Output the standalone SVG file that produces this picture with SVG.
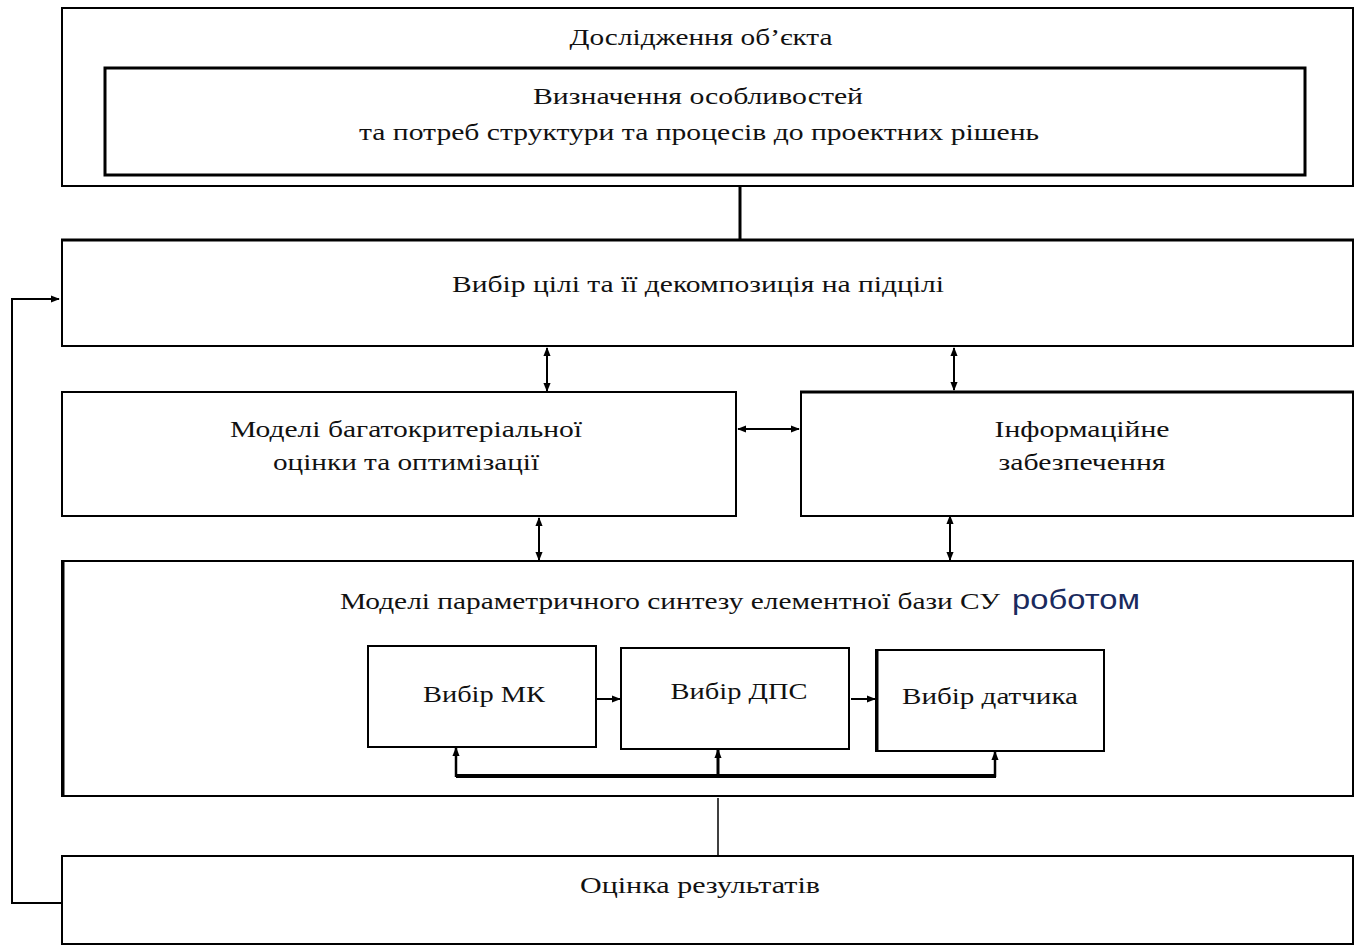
<svg xmlns="http://www.w3.org/2000/svg" width="1360" height="946" viewBox="0 0 1360 946">
<style>
.box{fill:#fff;stroke:#000;stroke-width:2}
.t{font-family:"Liberation Serif","DejaVu Serif",serif;font-size:24px;fill:#111;text-anchor:middle}
.c{stroke:#000;fill:none}
</style>
<defs>
<marker id="ah" viewBox="0 0 10 10" refX="9" refY="5" markerWidth="5" markerHeight="5" orient="auto-start-reverse" markerUnits="userSpaceOnUse">
<path d="M0,1 L10,5 L0,9 z" fill="#000"/>
</marker>
<marker id="ah2" viewBox="0 0 10 10" refX="9" refY="5" markerWidth="9" markerHeight="9" orient="auto-start-reverse" markerUnits="userSpaceOnUse">
<path d="M0,1 L10,5 L0,9 z" fill="#000"/>
</marker>
</defs>
<rect width="1360" height="946" fill="#fff"/>
<g id="n-doslidzhennia">
<rect class="box" x="62" y="8" width="1291" height="178"/>
<text class="t" x="701" y="45" textLength="263" lengthAdjust="spacingAndGlyphs">Дослідження об’єкта</text>
</g>
<g id="n-vyznachennia">
<rect class="box" x="105" y="68" width="1200" height="107" style="stroke-width:3"/>
<text class="t" x="698" y="104" textLength="330" lengthAdjust="spacingAndGlyphs">Визначення особливостей</text>
<text class="t" x="699" y="140" textLength="680" lengthAdjust="spacingAndGlyphs">та потреб структури та процесів до проектних рішень</text>
</g>
<g id="n-vybir-tsili">
<rect class="box" x="62" y="240" width="1291" height="106"/>
<line x1="61" y1="240" x2="1354" y2="240" stroke="#000" stroke-width="3"/>
<text class="t" x="698" y="292" textLength="492" lengthAdjust="spacingAndGlyphs">Вибір цілі та її декомпозиція на підцілі</text>
</g>
<g id="n-modeli-bagato">
<rect class="box" x="62" y="392" width="674" height="124"/>
<text class="t" x="406" y="437" textLength="352" lengthAdjust="spacingAndGlyphs">Моделі багатокритеріальної</text>
<text class="t" x="406" y="470" textLength="266" lengthAdjust="spacingAndGlyphs">оцінки та оптимізації</text>
</g>
<g id="n-informatsiine">
<rect class="box" x="801" y="392" width="552" height="124"/>
<line x1="800" y1="392" x2="1354" y2="392" stroke="#000" stroke-width="3"/>
<text class="t" x="1082" y="437" textLength="175" lengthAdjust="spacingAndGlyphs">Інформаційне</text>
<text class="t" x="1082" y="470" textLength="167" lengthAdjust="spacingAndGlyphs">забезпечення</text>
</g>
<g id="n-modeli-param">
<rect class="box" x="62" y="561" width="1291" height="235"/>
<line x1="63" y1="560" x2="63" y2="797" stroke="#000" stroke-width="3"/>
<text x="340" y="609" style="font-family:'Liberation Serif','DejaVu Serif',serif;font-size:24px;fill:#111" textLength="660" lengthAdjust="spacingAndGlyphs">Моделі параметричного синтезу елементної бази СУ</text>
<text x="1012" y="609" style="font-family:'Liberation Sans','Open Sans',sans-serif;font-size:28px;fill:#1a2a5e" textLength="128" lengthAdjust="spacingAndGlyphs">роботом</text>
</g>
<g id="n-mk">
<rect class="box" x="368" y="646" width="228" height="101"/>
<text class="t" x="484" y="702" textLength="122" lengthAdjust="spacingAndGlyphs">Вибір МК</text>
</g>
<g id="n-dps">
<rect class="box" x="621" y="648" width="228" height="101"/>
<text class="t" x="739" y="699" textLength="137" lengthAdjust="spacingAndGlyphs">Вибір ДПС</text>
</g>
<g id="n-datchyk">
<rect class="box" x="876" y="650" width="228" height="101"/>
<line x1="877" y1="649" x2="877" y2="752" stroke="#000" stroke-width="3"/>
<text class="t" x="990" y="704" textLength="176" lengthAdjust="spacingAndGlyphs">Вибір датчика</text>
</g>
<g id="n-otsinka">
<rect class="box" x="62" y="856" width="1291" height="88"/>
<text class="t" x="700" y="893" textLength="240" lengthAdjust="spacingAndGlyphs">Оцінка результатів</text>
</g>
<g id="connectors">
<line class="c" x1="740" y1="186" x2="740" y2="239" stroke-width="3"/>
<polyline class="c" points="62,903 12,903 12,299 59,299" stroke-width="2" marker-end="url(#ah2)"/>
<line class="c" x1="547" y1="348" x2="547" y2="391" stroke-width="2" marker-start="url(#ah2)" marker-end="url(#ah2)"/>
<line class="c" x1="954" y1="348" x2="954" y2="390" stroke-width="2" marker-start="url(#ah2)" marker-end="url(#ah2)"/>
<line class="c" x1="738" y1="429" x2="799" y2="429" stroke-width="2" marker-start="url(#ah2)" marker-end="url(#ah2)"/>
<line class="c" x1="539" y1="518" x2="539" y2="560" stroke-width="2" marker-start="url(#ah2)" marker-end="url(#ah2)"/>
<line class="c" x1="950" y1="516" x2="950" y2="560" stroke-width="2" marker-start="url(#ah2)" marker-end="url(#ah2)"/>
<line class="c" x1="597" y1="699" x2="620" y2="699" stroke-width="2" marker-end="url(#ah2)"/>
<line class="c" x1="851" y1="699" x2="875" y2="699" stroke-width="2" marker-end="url(#ah2)"/>
<polyline class="c" points="456,776 996,776" stroke-width="4"/>
<line class="c" x1="456" y1="777" x2="456" y2="748" stroke-width="2.5" marker-end="url(#ah2)"/>
<line class="c" x1="718" y1="777" x2="718" y2="750" stroke-width="3" marker-end="url(#ah2)"/>
<line class="c" x1="995" y1="777" x2="995" y2="752" stroke-width="2.5" marker-end="url(#ah2)"/>
<line class="c" x1="718" y1="798" x2="718" y2="855" stroke-width="1.5"/>
</g>
</svg>
